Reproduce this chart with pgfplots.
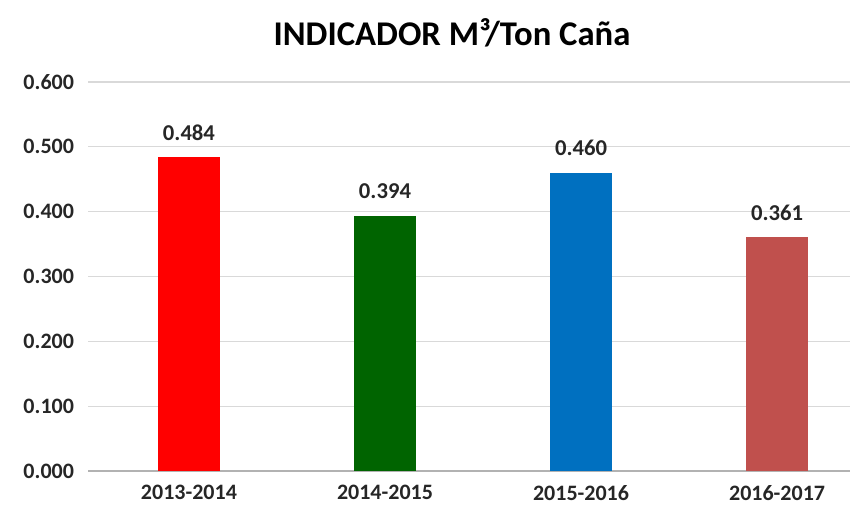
\documentclass[border=0pt]{standalone}
\usepackage{pgfplots}
\pgfplotsset{compat=1.18}
\usepackage{fontspec}
\setmainfont{Carlito}
\definecolor{cRed}{HTML}{FF0000}
\definecolor{cGreen}{HTML}{006400}
\definecolor{cBlue}{HTML}{0070C0}
\definecolor{cRose}{HTML}{C0504D}
\definecolor{gridc}{HTML}{D9D9D9}
\begin{document}
\begin{tikzpicture}
\useasboundingbox (0,0) rectangle (642.75pt,383.25pt);
\begin{axis}[
  at={(66pt,30pt)}, anchor=south west,
  scale only axis, width=571.5pt, height=291.75pt,
  xmin=-0.515, xmax=3.372, ymin=0, ymax=0.6,
  ytick={0,0.1,...,0.6},
  xtick={0,1,2,3},
  xticklabels={2013-2014,2014-2015,2015-2016,2016-2017},
  ymajorgrids, grid style={gridc, line width=0.8pt},
  axis line style={draw=none},
  major tick length=0pt,
  tick label style={font=\fontsize{16.5}{18}\selectfont\bfseries, text=black!85},
  yticklabel style={/pgf/number format/.cd, fixed, fixed zerofill, precision=3, assume math mode=true},
  yticklabel shift=7pt,
  xticklabel shift=7pt,
  ybar, bar width=46.5pt, bar shift=0pt,
  nodes near coords,
  every node near coord/.append style={yshift=9pt, font=\fontsize{17}{19}\selectfont\bfseries, text=black!85, /pgf/number format/.cd, fixed, fixed zerofill, precision=3, assume math mode=true},
  clip=false,
  extra y ticks={0}, extra y tick labels={},
  extra y tick style={grid style={gray!60, line width=0.9pt}},
]
\addplot[fill=cRed, draw=none] coordinates {(0,0.484)};
\addplot[fill=cGreen, draw=none] coordinates {(1,0.394)};
\addplot[fill=cBlue, draw=none] coordinates {(2,0.460)};
\addplot[fill=cRose, draw=none] coordinates {(3,0.361)};
\end{axis}
\node[font=\fontsize{26}{30}\selectfont\bfseries] at (339pt,359pt) {INDICADOR M³/Ton Caña};
\end{tikzpicture}
\end{document}
